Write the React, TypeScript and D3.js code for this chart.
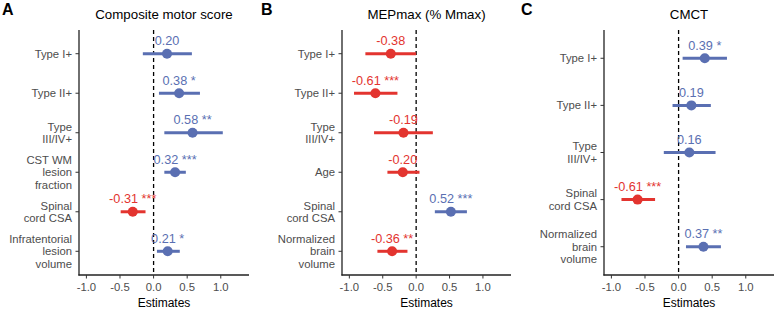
import React from "react";
import * as d3 from "d3";

const termsA = ["Type I+", "Type II+", "Type\nIII/IV+", "CST WM\nlesion\nfraction", "Spinal\ncord CSA", "Infratentorial\nlesion\nvolume"];
const estA = [0.20, 0.38, 0.58, 0.32, -0.31, 0.21];
const lowA = [-0.16, 0.08, 0.16, 0.16, -0.49, 0.05];
const highA = [0.57, 0.69, 1.03, 0.48, -0.12, 0.39];
const starsA = ["", "*", "**", "***", "***", "*"];

const termsB = ["Type I+", "Type II+", "Type\nIII/IV+", "Age", "Spinal\ncord CSA", "Normalized\nbrain\nvolume"];
const estB = [-0.38, -0.61, -0.19, -0.20, 0.52, -0.36];
const lowB = [-0.76, -0.93, -0.63, -0.43, 0.28, -0.58];
const highB = [0.00, -0.28, 0.25, 0.05, 0.76, -0.13];
const starsB = ["", "***", "", "", "***", "**"];

const termsC = ["Type I+", "Type II+", "Type\nIII/IV+", "Spinal\ncord CSA", "Normalized\nbrain\nvolume"];
const estC = [0.39, 0.19, 0.16, -0.61, 0.37];
const lowC = [0.06, -0.09, -0.22, -0.85, 0.11];
const highC = [0.72, 0.48, 0.55, -0.35, 0.63];
const starsC = ["*", "", "", "***", "**"];

const xTicks = [-1.0, -0.5, 0.0, 0.5, 1.0];
const xDomain: [number, number] = [-1.11, 1.42];

const BLUE = "#5a6fb2";
const RED = "#e3342f";
const FONT = "'Liberation Sans', Arial, sans-serif";

type PanelProps = {
  letter: string;
  title: string;
  terms: string[];
  est: number[];
  low: number[];
  high: number[];
  stars: string[];
  x0: number;
  x1: number;
  letterX: number;
};

const TOP = 30;
const BOTTOM = 275;

function Panel(p: PanelProps) {
  const x = d3.scaleLinear().domain(xDomain).range([p.x0, p.x1]);
  const y = d3.scalePoint<string>().domain(p.terms).range([TOP, BOTTOM]).padding(0.6);
  const cx = (p.x0 + p.x1) / 2;
  return (
    <g>
      <text x={p.letterX} y={15} fontSize={16} fontWeight="bold" fill="#000">{p.letter}</text>
      <text x={cx} y={19} fontSize={13.3} textAnchor="middle" fill="#000">{p.title}</text>
      {/* zero line */}
      <line x1={x(0)} x2={x(0)} y1={TOP} y2={BOTTOM} stroke="#000" strokeWidth={1.3} strokeDasharray="4,3" />
      {/* axes */}
      <line x1={p.x0} x2={p.x0} y1={TOP} y2={BOTTOM + 0.6} stroke="#222" strokeWidth={1.3} />
      <line x1={p.x0 - 0.6} x2={p.x1} y1={BOTTOM} y2={BOTTOM} stroke="#222" strokeWidth={1.3} />
      {xTicks.map((t) => (
        <g key={t}>
          <line x1={x(t)} x2={x(t)} y1={BOTTOM} y2={BOTTOM + 3.5} stroke="#333" strokeWidth={1} />
          <text x={x(t)} y={291} fontSize={11.3} textAnchor="middle" fill="#4d4d4d">{t.toFixed(1)}</text>
        </g>
      ))}
      <text x={cx} y={306.5} fontSize={12} textAnchor="middle" fill="#000">Estimates</text>
      {p.terms.map((term, i) => {
        const yy = y(term) as number;
        const lines = term.split("\n");
        const lh = 12.3;
        const start = yy - ((lines.length - 1) * lh) / 2 + 4;
        const col = p.est[i] >= 0 ? BLUE : RED;
        return (
          <g key={term}>
            <line x1={p.x0 - 3.5} x2={p.x0} y1={yy} y2={yy} stroke="#333" strokeWidth={1} />
            <text fontSize={11.3} textAnchor="end" fill="#4d4d4d">
              {lines.map((l, j) => (
                <tspan key={j} x={p.x0 - 7} y={start + j * lh}>{l}</tspan>
              ))}
            </text>
            <line x1={x(p.low[i])} x2={x(p.high[i])} y1={yy} y2={yy} stroke={col} strokeWidth={3} />
            <circle cx={x(p.est[i])} cy={yy} r={5} fill={col} />
            <text x={x(p.est[i])} y={yy - 8.5} fontSize={12.7} textAnchor="middle" fill={col}>
              {p.est[i].toFixed(2) + (p.stars[i] ? " " + p.stars[i] : "")}
            </text>
          </g>
        );
      })}
    </g>
  );
}

export default function App() {
  return (
    <svg width={774} height={310} style={{ position: "absolute", left: 0, top: 0, background: "#fff" }} fontFamily={FONT}>
      <rect x={0} y={0} width={774} height={310} fill="#fff" />
      <Panel letter="A" title="Composite motor score" terms={termsA} est={estA} low={lowA} high={highA} stars={starsA} x0={79} x1={249} letterX={2} />
      <Panel letter="B" title="MEPmax (% Mmax)" terms={termsB} est={estB} low={lowB} high={highB} stars={starsB} x0={342} x1={511} letterX={261} />
      <Panel letter="C" title="CMCT" terms={termsC} est={estC} low={lowC} high={highC} stars={starsC} x0={604} x1={774} letterX={521} />
    </svg>
  );
}
